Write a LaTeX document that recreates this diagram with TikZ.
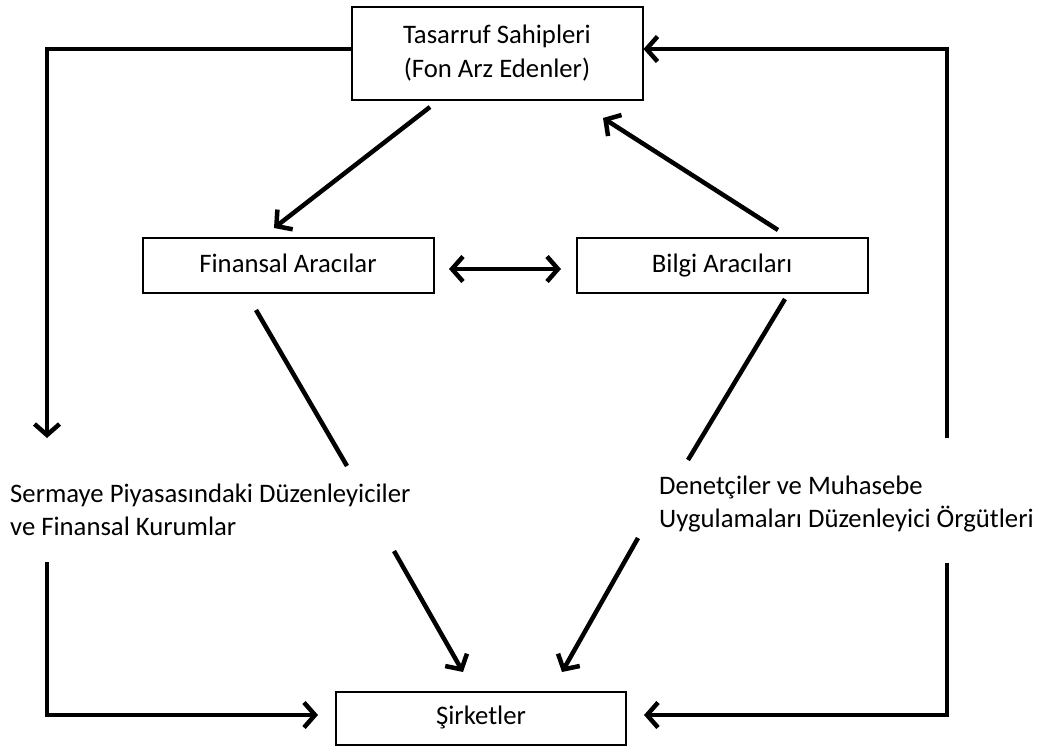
\documentclass[tikz,border=0pt]{standalone}
\usepackage{fontspec}
\setmainfont{Carlito}
\usetikzlibrary{arrows.meta}
\tikzset{
  txt/.style={font=\fontsize{26.7}{32.5}\selectfont},
  box/.style={txt, draw, line width=2pt, fill=white, inner sep=0pt, align=center,
    minimum width=291pt},
  onebox/.style={box, text height=18pt, text depth=5pt},
  lbl/.style={txt, anchor=base west, align=left, inner sep=0pt},
  conn/.style={line width=4.5pt, line cap=butt},
  chev/.tip={Straight Barb[length=11pt, width=25pt, line width=4.5pt]},
  arr/.style={conn, -{chev}},
  darr/.style={conn, {chev}-{chev}}
}
\begin{document}
\begin{tikzpicture}[x=1pt, y=-1pt]
\useasboundingbox (0,0) rectangle (1043,747);

% boxes
\node[box, minimum height=93pt, font=\fontsize{26.7}{34}\selectfont] (ts) at (497,53.5) {Tasarruf Sahipleri\\(Fon Arz Edenler)};
\node[onebox, minimum height=55pt] (fa) at (288,265.5) {Finansal Aracılar};
\node[onebox, minimum height=55pt] (ba) at (722,265.5) {Bilgi Aracıları};
\node[onebox, minimum height=53pt, minimum width=290pt] (sk) at (481,718) {Şirketler};

% free-standing labels (anchored on the baseline of their last line)
\node[lbl] (dz) at (10,535) {Sermaye Piyasasındaki Düzenleyiciler\\ve Finansal Kurumlar};
\node[lbl] (dn) at (659,527) {Denetçiler ve Muhasebe\\Uygulamaları Düzenleyici Örgütleri};

% connector end points
\coordinate (lTip) at (47,438);
\coordinate (rTop) at (947,438);
\coordinate (lBot) at (47,562);
\coordinate (rBot) at (947,563);
\coordinate (tsA) at (430,107);
\coordinate (faA) at (274,228);
\coordinate (baA) at (778,230);
\coordinate (tsB) at (603,118);
\coordinate (faL) at (449,269);
\coordinate (baL) at (561,269);
\coordinate (fa1) at (256,310);
\coordinate (fa2) at (347,466);
\coordinate (fa3) at (394,551);
\coordinate (sk1) at (463,672);
\coordinate (ba1) at (785,299);
\coordinate (ba2) at (688,460);
\coordinate (ba3) at (638,538);
\coordinate (sk2) at (562,672);

% outer loop
\draw[arr] ([yshift=4.5pt]ts.west) -| (lTip);
\draw[arr] (rTop) |- ([yshift=4.5pt]ts.east);
\draw[arr, shorten >=17pt] (lBot) |- ([yshift=3pt]sk.west);
\draw[arr, shorten >=17pt] (rBot) |- ([yshift=3pt]sk.east);

% inner connectors
\draw[arr] (tsA) -- (faA);
\draw[arr] (baA) -- (tsB);
\draw[darr] (faL) -- (baL);
\draw[conn] (fa1) -- (fa2);
\draw[arr] (fa3) -- (sk1);
\draw[conn] (ba1) -- (ba2);
\draw[arr] (ba3) -- (sk2);
\end{tikzpicture}
\end{document}
